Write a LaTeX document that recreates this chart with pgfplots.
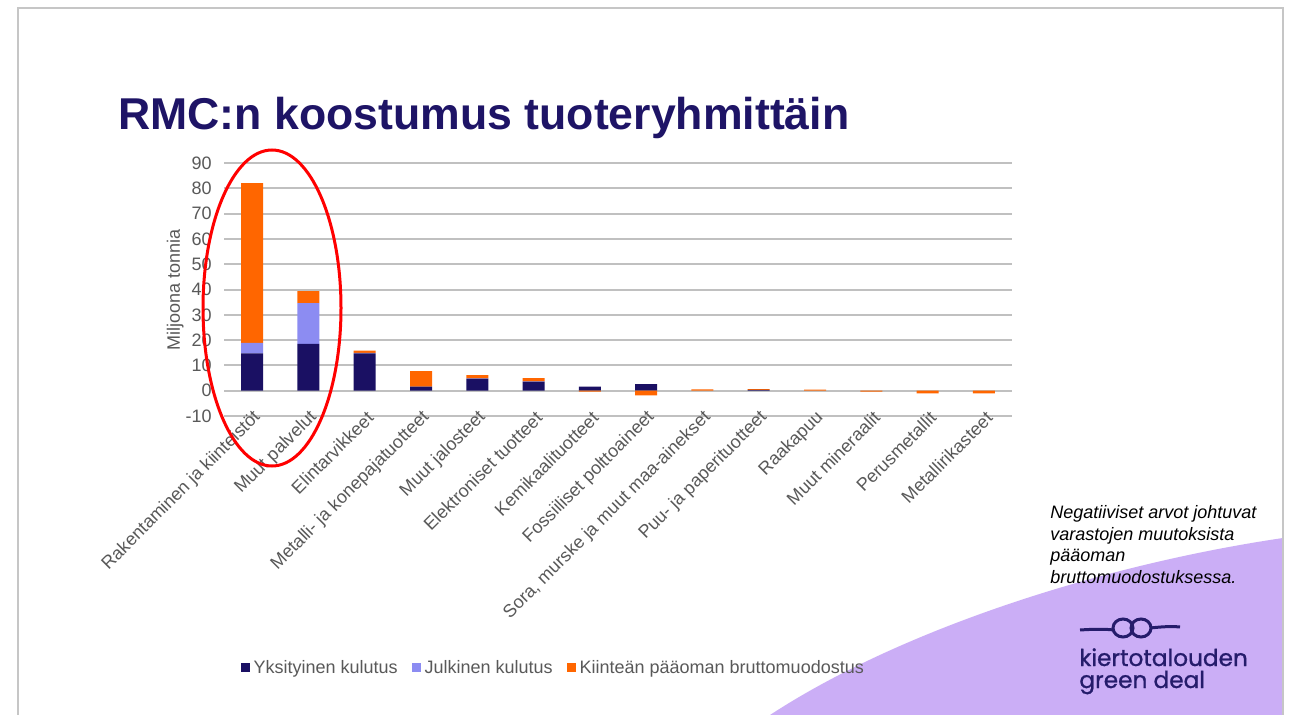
\documentclass[border=0pt]{standalone}
\usepackage{fontspec}
\setmainfont{Liberation Sans}
\newfontfamily\logofont{Poppins}[FakeBold=1]
\usepackage{pgfplots}
\pgfplotsset{compat=1.18}
\definecolor{yks}{HTML}{1A1063}
\definecolor{julk}{HTML}{8C8CF2}
\definecolor{kiint}{HTML}{FF6600}
\definecolor{lav}{HTML}{CBAEF6}
\definecolor{titlec}{HTML}{1E1466}
\definecolor{txt}{HTML}{595959}
\definecolor{gridc}{HTML}{C0C0C0}
\definecolor{logoc}{HTML}{251C6B}
\begin{document}
\begin{tikzpicture}
\path[use as bounding box] (0,0) rectangle (644.5pt,-357.5pt);
\begin{scope}[x=0.5pt,y=-0.5pt]
\fill[white] (0,0) rectangle (1289,715);
\fill[lav] (770,715) .. controls (900,630) and (1100,565) .. (1283,538) -- (1283,715) -- cycle;
\draw[gray!45, line width=1pt] (18,715) -- (18,8) -- (1283,8) -- (1283,715);
\node[anchor=base west, inner sep=0, font=\fontsize{22.3pt}{26pt}\selectfont\bfseries, text=titlec] at (118,130) {RMC:n koostumus tuoteryhmittäin};
\begin{scope}[font=\fontsize{9pt}{10pt}\selectfont\itshape]
\node[anchor=base west, inner sep=0] at (1050,518) {Negatiiviset arvot johtuvat};
\node[anchor=base west, inner sep=0] at (1050,540) {varastojen muutoksista};
\node[anchor=base west, inner sep=0] at (1050,561) {pääoman};
\node[anchor=base west, inner sep=0] at (1050,583) {bruttomuodostuksessa.};
\end{scope}
\draw[logoc, line width=1.5pt] (1080,630) .. controls (1095,629) and (1105,629) .. (1114,630);
\draw[logoc, line width=1.5pt] (1123,628) ellipse (10 and 9);
\draw[logoc, line width=1.5pt] (1141,628) ellipse (10 and 9);
\draw[logoc, line width=1.5pt] (1150,628) .. controls (1160,627) and (1170,626) .. (1180,627);
\node[anchor=base west, inner sep=0, text=logoc, font=\logofont\fontsize{11.6pt}{12pt}\selectfont] at (1079,666) {kiertotalouden};
\node[anchor=base west, inner sep=0, text=logoc, font=\logofont\fontsize{11.6pt}{12pt}\selectfont] at (1079,688) {green deal};
\end{scope}

\begin{axis}[
  at={(112pt,-208pt)}, anchor=south west,
  scale only axis, width=394pt, height=126.5pt,
  ybar stacked, bar width=11pt,
  xmin=-0.5, xmax=13.5, ymin=-10, ymax=90,
  enlargelimits=false,
  axis line style={draw=none},
  tick style={draw=none},
  ymajorgrids, grid style={gridc, line width=1pt},
  ytick={-10,0,10,20,30,40,50,60,70,80,90},
  yticklabels={-10,0,10,20,30,40,50,60,70,80,90},
  xtick={0,1,2,3,4,5,6,7,8,9,10,11,12,13},
  xticklabels={Rakentaminen ja kiinteistöt, Muut palvelut, Elintarvikkeet, Metalli- ja konepajatuotteet, Muut jalosteet, Elektroniset tuotteet, Kemikaalituotteet, Fossiiliset polttoaineet, {Sora, murske ja muut maa-ainekset}, Puu- ja paperituotteet, Raakapuu, Muut mineraalit, Perusmetallit, Metallirikasteet},
  tick label style={font=\fontsize{9pt}{10pt}\selectfont, text=txt},
  xticklabel style={rotate=45, anchor=east, inner sep=0pt, xshift=2.5pt, yshift=-1.5pt},
  yticklabel style={inner sep=0pt, xshift=-6pt},
  ylabel={Miljoona tonnia},
  ylabel style={font=\fontsize{9pt}{10pt}\selectfont, text=txt, at={(axis description cs:-0.062,0.5)}, anchor=center},
  legend style={at={(0.419,-0.996)}, anchor=center, draw=none, fill=none, legend columns=3,
    font=\fontsize{9pt}{10pt}\selectfont, text=txt,
    /tikz/every even column/.append style={column sep=5pt}},
  legend image code/.code={\fill[#1] (0pt,-2.25pt) rectangle (4.5pt,2.25pt);},
]
\addplot[fill=yks, draw=none] coordinates {(0,14.8) (1,18.5) (2,14.8) (3,1.6) (4,4.8) (5,3.6) (6,1.6) (7,2.6) (8,0) (9,0.3) (10,0) (11,0) (12,0) (13,0)};
\addplot[fill=julk, draw=none] coordinates {(0,4.1) (1,16.1) (2,0.2) (3,0) (4,0.1) (5,0.1) (6,0) (7,0) (8,0) (9,0) (10,0) (11,0) (12,0) (13,0)};
\addplot[fill=kiint, draw=none] coordinates {(0,63.1) (1,4.8) (2,0.8) (3,6.1) (4,1.3) (5,1.3) (6,0) (7,0) (8,0.5) (9,0.3) (10,0.4) (11,0) (12,0) (13,0)};
\legend{Yksityinen kulutus, Julkinen kulutus, Kiinteän pääoman bruttomuodostus}
\end{axis}

\begin{axis}[
  at={(112pt,-208pt)}, anchor=south west,
  scale only axis, width=394pt, height=126.5pt,
  ybar, bar width=11pt, bar shift=0pt,
  xmin=-0.5, xmax=13.5, ymin=-10, ymax=90,
  enlargelimits=false, hide axis,
]
\addplot[fill=kiint, draw=none] coordinates {(6,-0.4) (7,-1.8) (11,-0.4) (12,-1.1) (13,-1.1)};
\end{axis}

\draw[red, line width=1.5pt] (136pt,-154pt) ellipse (34.5pt and 79pt);
\end{tikzpicture}
\end{document}
